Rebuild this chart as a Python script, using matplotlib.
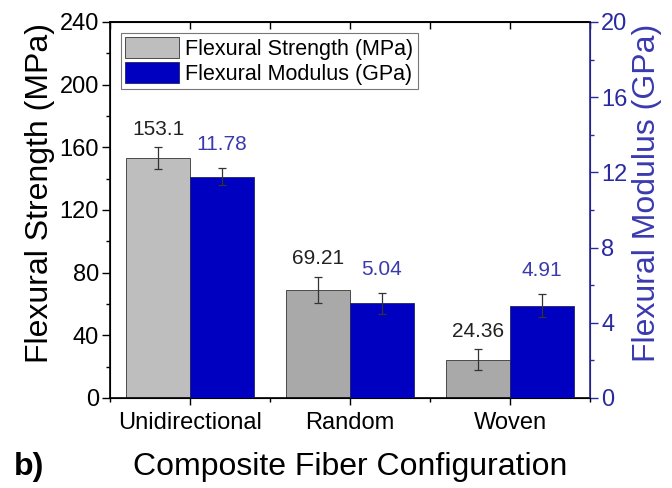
import numpy as np
import matplotlib.pyplot as plt
from matplotlib.ticker import MultipleLocator

plt.rcParams['font.family'] = ['Liberation Sans', 'DejaVu Sans']

categories = ["Unidirectional", "Random", "Woven"]
strength = [153.1, 69.21, 24.36]
strength_err = [7.0, 8.3, 6.7]
modulus = [11.78, 5.04, 4.91]
modulus_err = [0.45, 0.55, 0.6]
strength_labels = ["153.1", "69.21", "24.36"]
modulus_labels = ["11.78", "5.04", "4.91"]

blue = "#0000c0"
axis_blue = "#2a2aa0"
x = np.arange(1, len(categories) + 1)
w = 0.4

fig = plt.figure(figsize=(6.72, 4.88), dpi=100)
ax = fig.add_axes([110 / 672, 1 - 398 / 488, 480 / 672, 376 / 488])
ax2 = ax.twinx()

gray_cols = ["#bebebe", "#a9a9a9", "#a9a9a9"]
ax.bar(x - w / 2, strength, w, color=gray_cols, edgecolor="#333333", linewidth=0.6,
       label="Flexural Strength (MPa)", zorder=2)
ax.errorbar(x - w / 2, strength, yerr=strength_err, fmt="none", ecolor="#333333",
            elinewidth=0.9, capsize=3, capthick=0.9, zorder=3)
ax2.bar(x + w / 2, modulus, w, color=blue, edgecolor="#222266", linewidth=0.6,
        label="Flexural Modulus (GPa)", zorder=2)
ax2.errorbar(x + w / 2, modulus, yerr=modulus_err, fmt="none", ecolor="#333333",
             elinewidth=0.9, capsize=3, capthick=0.9, zorder=3)

for xi, v, e, t in zip(x, strength, strength_err, strength_labels):
    ax.text(xi - w / 2, v + e + 5.5, t, ha="center", va="bottom", fontsize=15, color="#222222")
for xi, v, e, t in zip(x, modulus, modulus_err, modulus_labels):
    ax2.text(xi + w / 2, v + e + 0.75, t, ha="center", va="bottom", fontsize=15, color="#3a3ab0")

ax.set_xlim(0.5, 3.5)
ax.set_ylim(0, 240)
ax2.set_ylim(0, 20)
ax.set_xticks(x)
ax.set_xticklabels(categories)
ax.xaxis.set_minor_locator(MultipleLocator(0.5))
ax.yaxis.set_major_locator(MultipleLocator(40))
ax.yaxis.set_minor_locator(MultipleLocator(20))
ax2.yaxis.set_major_locator(MultipleLocator(4))
ax2.yaxis.set_minor_locator(MultipleLocator(2))

# top axis: ticks pointing inward, no labels
top = ax.secondary_xaxis("top")
top.set_xticks(x)
top.xaxis.set_minor_locator(MultipleLocator(0.5))
top.tick_params(axis="x", which="both", direction="in", length=5, width=1, labeltop=False)
top.spines["top"].set_linewidth(1.2)

ax.tick_params(axis="y", which="major", labelsize=17, direction="out", length=6, width=1, pad=2)
ax.tick_params(axis="y", which="minor", direction="out", length=3, width=1)
ax.tick_params(axis="x", which="major", labelsize=17, direction="out", length=5, width=1, pad=5)
ax.tick_params(axis="x", which="minor", direction="out", length=3, width=1)
ax2.tick_params(axis="y", which="major", labelsize=17, direction="out", length=6, width=1,
                colors=axis_blue, pad=2)
ax2.tick_params(axis="y", which="minor", direction="out", length=3, width=1, colors=axis_blue)
ax2.spines["right"].set_color(axis_blue)
ax2.spines["right"].set_linewidth(1.2)
for s in ["left", "bottom", "top"]:
    ax.spines[s].set_linewidth(1.2)

ax.set_ylabel("Flexural Strength (MPa)", fontsize=23, labelpad=3, y=0.545)
ax2.set_ylabel("Flexural Modulus (GPa)", fontsize=23, color="#3a3ab0", labelpad=3, y=0.545)
ax.set_xlabel("Composite Fiber Configuration", fontsize=23, labelpad=13)
fig.text(14 / 672, 1 - 467 / 488, "b)", fontsize=23, fontweight="bold", va="center")

h1, l1 = ax.get_legend_handles_labels()
h2, l2 = ax2.get_legend_handles_labels()
leg = ax2.legend(h1 + h2, l1 + l2, loc="upper left", fontsize=15.5, frameon=True,
                 fancybox=False, edgecolor="#555555", handlelength=2.5, handleheight=1.1,
                 borderaxespad=0.5, borderpad=0.2, labelspacing=0.1, handletextpad=0.3)
leg.get_frame().set_linewidth(0.8)

fig.savefig("out.png", dpi=100)
